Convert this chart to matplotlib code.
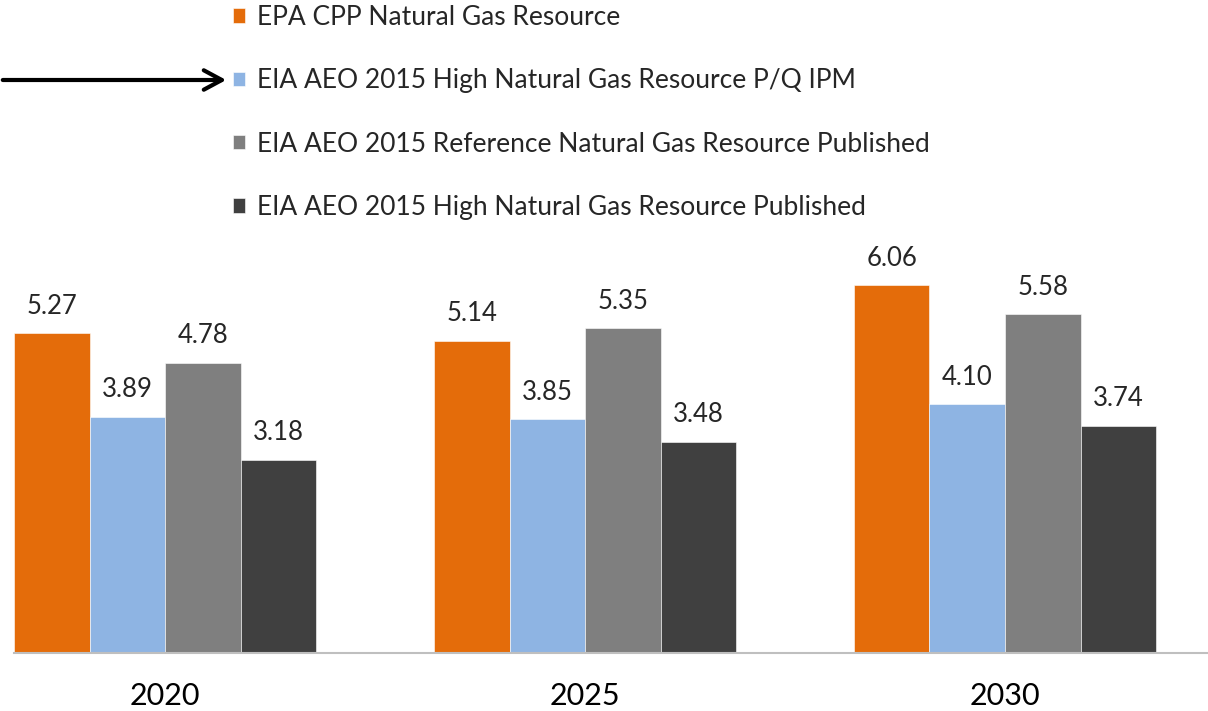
import matplotlib.pyplot as plt
import numpy as np

plt.rcParams['font.family'] = ['Lato', 'DejaVu Sans']

years = ["2020", "2025", "2030"]
series_names = [
    "EPA CPP Natural Gas Resource",
    "EIA AEO 2015 High Natural Gas Resource P/Q IPM",
    "EIA AEO 2015 Reference Natural Gas Resource Published",
    "EIA AEO 2015 High Natural Gas Resource Published",
]
epa_cpp = [5.27, 5.14, 6.06]
eia_high_ipm = [3.89, 3.85, 4.10]
eia_ref_pub = [4.78, 5.35, 5.58]
eia_high_pub = [3.18, 3.48, 3.74]

colors = ["#E46C0A", "#8EB4E3", "#7F7F7F", "#404040"]

W, H = 1208, 711
fig = plt.figure(figsize=(W / 100, H / 100), dpi=100)
# axes placed in pixel terms: baseline at y=653, first bar edge at x=14
ax = fig.add_axes([14 / W, 58 / H, (W - 14) / W, 425 / H])

x = np.arange(len(years))
bar_w = 0.18
all_series = [epa_cpp, eia_high_ipm, eia_ref_pub, eia_high_pub]
handles = []
for i, vals in enumerate(all_series):
    pos = x + (i - 1.5) * bar_w
    bars = ax.bar(pos, vals, width=bar_w, color=colors[i],
                  edgecolor="#ffffff", linewidth=0.4, label=series_names[i])
    handles.append(bars)
    for xp, v in zip(pos, vals):
        ax.annotate(f"{v:.2f}", (xp, v), xytext=(0, 14), textcoords="offset points",
                    ha="center", va="baseline", fontsize=18.5, color="#262626",
                    clip_on=False)

ax.set_xlim(-0.36, (W - 165) / 420)
ax.set_ylim(0, 7)
ax.set_xticks(x)
ax.set_xticklabels(years, fontsize=22, color="#000000")
ax.tick_params(axis="x", length=0, pad=21)
ax.set_yticks([])
for s in ["top", "right", "left"]:
    ax.spines[s].set_visible(False)
ax.spines["bottom"].set_color("#BFBFBF")
ax.spines["bottom"].set_linewidth(1.5)

fig.legend(handles, series_names, loc="upper left",
           bbox_to_anchor=(233 / W, 1 - 5 / H), frameon=False, fontsize=19,
           handlelength=0.47, handleheight=0.47, handletextpad=0.45,
           labelspacing=1.45, borderpad=0, borderaxespad=0,
           labelcolor="#262626")

# arrow pointing at the IPM series
fig.add_artist(plt.matplotlib.patches.FancyArrowPatch(
    (0, 1 - 80 / H), (229 / W, 1 - 80 / H), transform=fig.transFigure,
    arrowstyle="->, head_length=0.65, head_width=0.35", mutation_scale=20,
    lw=3, color="black"))

fig.savefig("out.png", dpi=100)
